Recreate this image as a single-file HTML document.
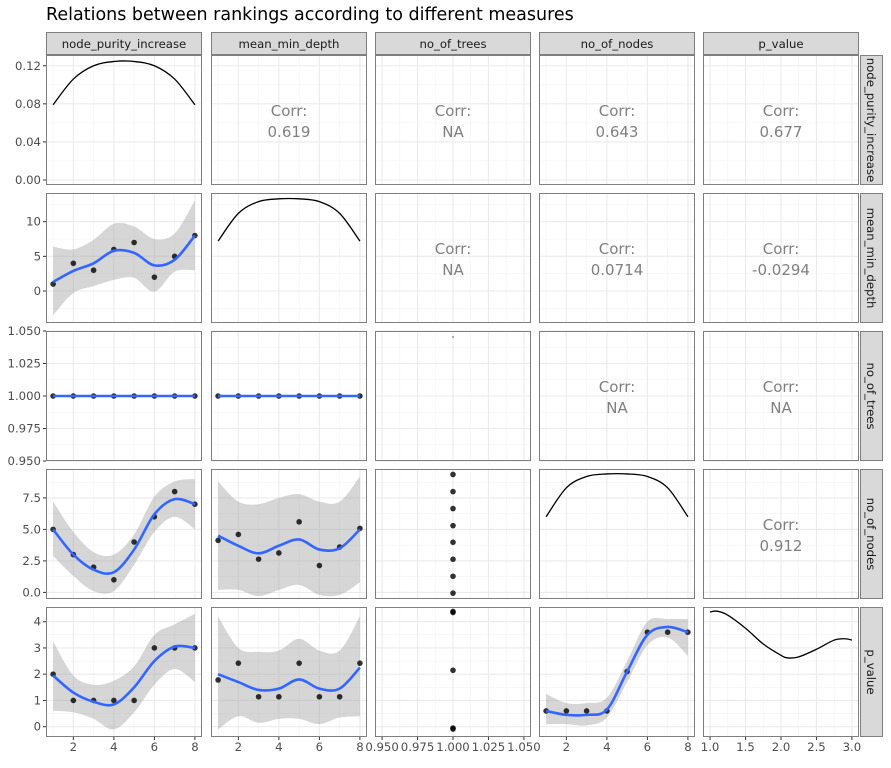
<!DOCTYPE html>
<html><head><meta charset="utf-8"><style>
body{margin:0;background:#fff;}
svg text{font-family:"DejaVu Sans","Liberation Sans",sans-serif;}
</style></head><body>
<svg id="chart" width="891" height="763" xmlns="http://www.w3.org/2000/svg">
<text x="46" y="20" font-size="17.5" fill="#000">Relations between rankings according to different measures</text>
</svg>
<script>
const vars=["node_purity_increase","mean_min_depth","no_of_trees","no_of_nodes","p_value"];
const ranks=[1,2,3,4,5,6,7,8];
const mmdVsNpi=[1,4,3,6,7,2,5,8];
const treesVals=[1,1,1,1,1,1,1,1];
const nodesVsNpi=[5,3,2,1,4,6,8,7];
const nodesVsMmd=[4.13,4.6,2.64,3.13,5.6,2.13,3.6,5.08];
const nodesVsTrees=[9.36,8.0,6.65,5.3,3.98,2.63,1.28,-0.06];
const pvVsNpi=[2,1,1,1,1,3,3,3];
const pvVsMmd=[1.78,2.42,1.14,1.14,2.42,1.14,1.14,2.42];
const pvVsTrees=[4.39,4.35,2.15,-0.09,-0.05];
const pvVsNodes=[0.6,0.6,0.6,0.6,2.1,3.6,3.6,3.6];
const fitR2C1=[1.3,2.9,4.0,5.8,5.5,3.7,4.5,8.0], upR2C1=[6.4,6.0,7.4,9.7,9.3,7.5,8.3,13.1], loR2C1=[-3.5,-0.3,0.7,1.6,1.9,-0.1,2.8,3.0];
const fitR4C1=[5.0,3.0,1.8,1.6,3.4,6.2,7.4,7.0], upR4C1=[7.2,4.8,3.2,3.0,4.6,7.6,8.8,9.0], loR4C1=[2.9,1.3,0.1,0.1,2.2,4.8,6.0,5.0];
const fitR4C2=[4.5,3.7,3.1,3.7,4.2,3.4,3.5,5.0], upR4C2=[8.8,7.2,7.0,7.5,7.8,7.2,7.2,9.2], loR4C2=[0.2,0.2,-0.3,0.2,0.6,-0.2,-0.2,0.8];
const fitR5C1=[1.95,1.3,0.95,0.85,1.5,2.5,3.05,3.0], upR5C1=[3.25,1.95,1.6,1.75,2.3,3.5,3.9,4.3], loR5C1=[0.6,0.55,0.3,-0.1,0.55,1.6,2.2,1.7];
const fitR5C2=[2.0,1.7,1.4,1.45,1.8,1.45,1.45,2.25], upR5C2=[4.2,3.0,2.85,2.9,3.35,2.9,2.9,4.2], loR5C2=[-0.1,0.4,0.15,0.3,0.3,0.1,0.35,0.4];
const fitR5C4=[0.6,0.45,0.45,0.65,2.1,3.5,3.8,3.6], upR5C4=[1.25,0.9,0.9,1.1,2.5,4.0,4.1,4.1], loR5C4=[0.1,0.1,0.05,0.35,1.7,3.1,3.4,2.7];
const densNpi=[0.079,0.106,0.12,0.1245,0.1245,0.12,0.106,0.079];
const densMmd=[7.2,11.2,12.9,13.3,13.3,12.9,11.2,7.2];
const densNodes=[6.0,8.3,9.2,9.4,9.4,9.2,8.3,6.0];
const pvX=[1.0,1.1,1.25,1.5,1.75,2.0,2.1,2.25,2.5,2.75,2.9,3.0];
const densPv=[4.37,4.4,4.25,3.75,3.15,2.72,2.62,2.66,2.95,3.3,3.35,3.3];
const corrs=[[null,"0.619","NA","0.643","0.677"],[null,null,"NA","0.0714","-0.0294"],[null,null,null,"NA","NA"],[null,null,null,null,"0.912"]];
const xTicksRank=[2,4,6,8], xMinorRank=[1,3,5,7];
const xTicksTrees=[0.95,0.975,1.0,1.025,1.05], xMinorTrees=[0.9625,0.9875,1.0125,1.0375];
const xTicksPv=[1.0,1.5,2.0,2.5,3.0], xMinorPv=[1.25,1.75,2.25,2.75];
const xLabTrees=["0.950","0.975","1.000","1.025","1.050"], xLabPv=["1.0","1.5","2.0","2.5","3.0"];
const yTicks=[[0,0.04,0.08,0.12],[0,5,10],[0.95,0.975,1.0,1.025,1.05],[0,2.5,5,7.5],[0,1,2,3,4]];
const yMinor=[[0.02,0.06,0.10],[-2.5,2.5,7.5,12.5],[0.9625,0.9875,1.0125,1.0375],[1.25,3.75,6.25,8.75],[0.5,1.5,2.5,3.5]];
const yLabs=[["0.00","0.04","0.08","0.12"],["0","5","10"],["0.950","0.975","1.000","1.025","1.050"],["0.0","2.5","5.0","7.5"],["0","1","2","3","4"]];

const NS="http://www.w3.org/2000/svg", svg=document.getElementById('chart');
const colL=[46,211,375,539,703], rowT=[55,193,331,469,607], PW=156, PH=130;
const xDom=[[0.65,8.35],[0.65,8.35],[0.945,1.055],[0.65,8.35],[0.9,3.1]];
const yS=[v=>180-v*952,v=>291-v*6.93,v=>396-(v-1)*1300,v=>592.4-v*12.6,v=>726.7-v*26.25];
function xS(c,v){const d=xDom[c];return colL[c]+(v-d[0])/(d[1]-d[0])*PW;}
function el(t,a,p){const e=document.createElementNS(NS,t);for(const k in a)e.setAttribute(k,a[k]);(p||svg).appendChild(e);return e;}
function cr(pts){let d="M"+pts[0][0]+","+pts[0][1];for(let i=0;i<pts.length-1;i++){const p0=pts[i-1]||pts[i],p1=pts[i],p2=pts[i+1],p3=pts[i+2]||p2;d+=" C"+(p1[0]+(p2[0]-p0[0])/6)+","+(p1[1]+(p2[1]-p0[1])/6)+" "+(p2[0]-(p3[0]-p1[0])/6)+","+(p2[1]-(p3[1]-p1[1])/6)+" "+p2[0]+","+p2[1];}return d;}
function crNoM(pts){return cr(pts).replace(/^M[^ ]+/,"L"+pts[0][0]+","+pts[0][1]);}

for(let r=0;r<5;r++)for(let c=0;c<5;c++){
  const g=el('g',{});
  
  
  const cp='cp'+r+c;
  const clip=el('clipPath',{id:cp},g);el('rect',{x:colL[c],y:rowT[r],width:PW,height:PH},clip);
  el('rect',{x:colL[c],y:rowT[r],width:PW,height:PH,fill:'#fff'},g);
  const xm=c==2?xTicksTrees:c==4?xTicksPv:xTicksRank, xn=c==2?xMinorTrees:c==4?xMinorPv:xMinorRank;
  xn.forEach(v=>el('line',{x1:xS(c,v),x2:xS(c,v),y1:rowT[r],y2:rowT[r]+PH,stroke:'#f2f2f2','stroke-width':0.6},g));
  yMinor[r].forEach(v=>{const y=yS[r](v);if(y>rowT[r]&&y<rowT[r]+PH)el('line',{x1:colL[c],x2:colL[c]+PW,y1:y,y2:y,stroke:'#f2f2f2','stroke-width':0.6},g);});
  xm.forEach(v=>el('line',{x1:xS(c,v),x2:xS(c,v),y1:rowT[r],y2:rowT[r]+PH,stroke:'#ebebeb','stroke-width':1.1},g));
  yTicks[r].forEach(v=>el('line',{x1:colL[c],x2:colL[c]+PW,y1:yS[r](v),y2:yS[r](v),stroke:'#ebebeb','stroke-width':1.1},g));
  g.contentG=el('g',{'clip-path':'url(#'+cp+')'},g);
  el('rect',{x:colL[c]+0.5,y:rowT[r]+0.5,width:PW-1,height:PH-1,fill:'none',stroke:'#7f7f7f','stroke-width':1},g);
  window['P'+r+c]=g.contentG;
  if(r<c){const cx=colL[c]+PW/2,cy=rowT[r]+PH/2;
    const t1=el('text',{x:cx,y:cy-4,'text-anchor':'middle','font-size':15,fill:'#808080'},g);t1.textContent='Corr:';
    
    const t2=el('text',{x:cx,y:cy+17,'text-anchor':'middle','font-size':15,fill:'#808080'},g);t2.textContent=corrs[r][c];
    }
}
function ribbon(r,c,xs,lo,up){const p=window['P'+r+c];const top=xs.map((x,i)=>[xS(c,x),yS[r](up[i])]);const bot=xs.map((x,i)=>[xS(c,x),yS[r](lo[i])]).reverse();
  const e=el('path',{d:cr(top)+" "+crNoM(bot)+" Z",fill:'#999',opacity:0.4},p);}
function line(r,c,xs,ys,col,w,name){const p=window['P'+r+c];const e=el('path',{d:cr(xs.map((x,i)=>[xS(c,x),yS[r](ys[i])])),fill:'none',stroke:col,'stroke-width':w},p);
  }
function pts(r,c,xs,ys){const p=window['P'+r+c];xs.forEach((x,i)=>{const e=el('circle',{cx:xS(c,x),cy:yS[r](ys[i]),r:2.8,fill:'#000',opacity:0.8},p);
  });}

line(0,0,ranks,densNpi,'#000',1.3,'density-curve');
ribbon(1,0,ranks,loR2C1,upR2C1);pts(1,0,ranks,mmdVsNpi);line(1,0,ranks,fitR2C1,'#3366ff',2.6,'smooth-line');
line(1,1,ranks,densMmd,'#000',1.3,'density-curve');
pts(2,0,ranks,treesVals);line(2,0,[1,8],[1,1],'#3366ff',2.6,'smooth-line');
pts(2,1,ranks,treesVals);line(2,1,[1,8],[1,1],'#3366ff',2.6,'smooth-line');
(function(){const e=el('rect',{x:xS(2,1)-0.5,y:rowT[2]+5,width:1,height:2,fill:'#555'},window.P22);})();
ribbon(3,0,ranks,loR4C1,upR4C1);pts(3,0,ranks,nodesVsNpi);line(3,0,ranks,fitR4C1,'#3366ff',2.6,'smooth-line');
ribbon(3,1,ranks,loR4C2,upR4C2);pts(3,1,ranks,nodesVsMmd);line(3,1,ranks,fitR4C2,'#3366ff',2.6,'smooth-line');
pts(3,2,treesVals,nodesVsTrees);
line(3,3,ranks,densNodes,'#000',1.3,'density-curve');
ribbon(4,0,ranks,loR5C1,upR5C1);pts(4,0,ranks,pvVsNpi);line(4,0,ranks,fitR5C1,'#3366ff',2.6,'smooth-line');
ribbon(4,1,ranks,loR5C2,upR5C2);pts(4,1,ranks,pvVsMmd);line(4,1,ranks,fitR5C2,'#3366ff',2.6,'smooth-line');
pts(4,2,[1,1,1,1,1],pvVsTrees);
ribbon(4,3,ranks,loR5C4,upR5C4);pts(4,3,ranks,pvVsNodes);line(4,3,ranks,fitR5C4,'#3366ff',2.6,'smooth-line');
line(4,4,pvX,densPv,'#000',1.3,'density-curve');

vars.forEach((v,c)=>{const g=el('g',{});
  el('rect',{x:colL[c]+0.5,y:32.5,width:PW-1,height:22,fill:'#d9d9d9',stroke:'#7f7f7f','stroke-width':1},g);
  const t=el('text',{x:colL[c]+PW/2,y:48,'text-anchor':'middle','font-size':11.7,fill:'#1a1a1a'},g);t.textContent=v;});
vars.forEach((v,r)=>{const g=el('g',{});
  el('rect',{x:860.5,y:rowT[r]+0.5,width:22,height:PH-1,fill:'#d9d9d9',stroke:'#7f7f7f','stroke-width':1},g);
  const t=el('text',{x:0,y:0,'text-anchor':'middle','font-size':11.7,fill:'#1a1a1a',transform:'translate(867,'+(rowT[r]+PH/2)+') rotate(90)'},g);t.textContent=v;});
yTicks.forEach((ts,r)=>ts.forEach((v,i)=>{const y=yS[r](v);el('line',{x1:43,x2:46,y1:y,y2:y,stroke:'#333','stroke-width':1});
  const t=el('text',{x:41,y:y+4,'text-anchor':'end','font-size':11.7,fill:'#4d4d4d'});t.textContent=yLabs[r][i];
  }));
for(let c=0;c<5;c++){const ts=c==2?xTicksTrees:c==4?xTicksPv:xTicksRank;const lb=c==2?xLabTrees:c==4?xLabPv:xTicksRank.map(String);
  ts.forEach((v,i)=>{const x=xS(c,v);el('line',{x1:x,x2:x,y1:737,y2:740,stroke:'#333','stroke-width':1});
    const t=el('text',{x:x,y:751,'text-anchor':'middle','font-size':11.7,fill:'#4d4d4d'});t.textContent=lb[i];
    });}
</script>
</body></html>
